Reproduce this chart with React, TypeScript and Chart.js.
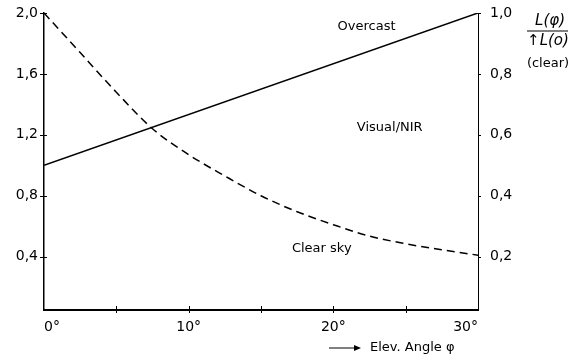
import React, { useEffect, useRef } from "react";
import { Chart, registerables } from "chart.js";

Chart.register(...registerables);

const angles = [0, 2.5, 5, 7.5, 10, 12.5, 15, 17.5, 20, 22.5, 25, 27.5, 30];
const clearSky = [2.0, 1.74, 1.48, 1.24, 1.07, 0.93, 0.8, 0.695, 0.61, 0.535, 0.485, 0.445, 0.41];
const overcastAngles = [0, 30];
const overcast = [1.0, 2.0];
const leftTicks = [0.4, 0.8, 1.2, 1.6, 2.0];
const rightTicks = [0.2, 0.4, 0.6, 0.8, 1.0];
const xTicks = [0, 5, 10, 15, 20, 25, 30];
const xLabelled = [0, 10, 20, 30];
const annotations = [
  { text: "Overcast", x: 22.3, y: 1.91 },
  { text: "Visual/NIR", x: 23.9, y: 1.25 },
  { text: "Clear sky", x: 19.2, y: 0.45 },
];

const FONT = "'DejaVu Sans', sans-serif";

const fmt = (v: number) => v.toFixed(1).replace(".", ",");

const decorPlugin = {
  id: "decor",
  afterDraw(chart: any) {
    const ctx = chart.ctx;
    const xs = chart.scales.x;
    const ys = chart.scales.y;
    const ys2 = chart.scales.y2;
    const ca = chart.chartArea;
    ctx.save();
    ctx.strokeStyle = "#000";
    ctx.lineWidth = 1;
    // crossing ticks on left axis
    leftTicks.forEach((v) => {
      const y = Math.round(ys.getPixelForValue(v)) + 0.5;
      ctx.beginPath();
      ctx.moveTo(ca.left - 4, y);
      ctx.lineTo(ca.left + 3, y);
      ctx.stroke();
    });
    // small ticks on right axis
    rightTicks.forEach((v) => {
      const y = Math.round(ys2.getPixelForValue(v)) + 0.5;
      ctx.beginPath();
      ctx.moveTo(ca.right, y);
      ctx.lineTo(ca.right + 3, y);
      ctx.stroke();
    });
    // crossing ticks on bottom axis
    xTicks.forEach((v) => {
      if (v === 0 || v === 30) return;
      const x = Math.round(xs.getPixelForValue(v)) + 0.5;
      ctx.beginPath();
      ctx.moveTo(x, ca.bottom - 4);
      ctx.lineTo(x, ca.bottom + 3);
      ctx.stroke();
    });
    // annotations
    ctx.fillStyle = "#000";
    ctx.font = `13px ${FONT}`;
    ctx.textAlign = "center";
    ctx.textBaseline = "middle";
    annotations.forEach((a) => {
      ctx.fillText(a.text, xs.getPixelForValue(a.x), ys.getPixelForValue(a.y));
    });
    // x-axis title with arrow
    const ty = ca.bottom + 38;
    ctx.beginPath();
    ctx.moveTo(329, ty);
    ctx.lineTo(356, ty);
    ctx.stroke();
    ctx.beginPath();
    ctx.moveTo(361, ty);
    ctx.lineTo(354, ty - 3);
    ctx.lineTo(354, ty + 3);
    ctx.closePath();
    ctx.fill();
    ctx.textAlign = "left";
    ctx.fillText("Elev. Angle φ", 370, ty);
    // right-axis title
    const cx = 548;
    ctx.textAlign = "center";
    ctx.font = `italic 15px ${FONT}`;
    ctx.fillText("L(φ)", cx + 2, 21);
    ctx.beginPath();
    ctx.lineWidth = 1.2;
    ctx.moveTo(527, 31);
    ctx.lineTo(568, 31);
    ctx.stroke();
    ctx.fillText("↑L(o)", cx, 41);
    ctx.font = `13px ${FONT}`;
    ctx.fillText("(clear)", cx, 64);
    ctx.restore();
  },
};

export default function App() {
  const ref = useRef<HTMLCanvasElement>(null);
  useEffect(() => {
    if (!ref.current) return;
    const chart = new Chart(ref.current, {
      type: "line",
      data: {
        datasets: [
          {
            label: "Overcast",
            data: overcastAngles.map((a, i) => ({ x: a, y: overcast[i] })),
            borderColor: "#000",
            borderWidth: 1.6,
            pointRadius: 0,
            yAxisID: "y",
          },
          {
            label: "Clear sky",
            data: angles.map((a, i) => ({ x: a, y: clearSky[i] })),
            borderColor: "#000",
            borderWidth: 1.5,
            borderDash: [8, 5],
            pointRadius: 0,
            cubicInterpolationMode: "monotone",
            yAxisID: "y",
          },
        ],
      },
      options: {
        animation: false,
        responsive: false,
        layout: { padding: { top: 13, left: 0, right: 0, bottom: 0 } },
        plugins: { legend: { display: false }, tooltip: { enabled: false } },
        scales: {
          x: {
            type: "linear",
            min: 0,
            max: 30,
            afterBuildTicks: (s: any) => {
              s.ticks = xTicks.map((v) => ({ value: v }));
            },
            afterFit: (s: any) => {
              s.height = 52;
            },
            grid: { display: true, drawOnChartArea: false, drawTicks: false },
            border: { display: true, color: "#000", width: 2 },
            ticks: {
              autoSkip: false,
              maxRotation: 0,
              align: "inner",
              padding: 9,
              color: "#000",
              font: { family: FONT, size: 14 },
              callback: (v: any) => (xLabelled.includes(Number(v)) ? `${v}°` : ""),
            },
          },
          y: {
            position: "left",
            min: 0.05,
            max: 2.0,
            afterBuildTicks: (s: any) => {
              s.ticks = leftTicks.map((v) => ({ value: v }));
            },
            afterFit: (s: any) => {
              s.width = 44;
            },
            grid: {
              display: true,
              drawOnChartArea: false,
              drawTicks: true,
              tickLength: 5,
              tickColor: "rgba(0,0,0,0)",
            },
            border: { display: true, color: "#000", width: 1.5 },
            ticks: {
              padding: 1,
              color: "#000",
              font: { family: FONT, size: 14 },
              callback: (v: any) => fmt(Number(v)),
            },
          },
          y2: {
            position: "right",
            min: 0.025,
            max: 1.0,
            afterBuildTicks: (s: any) => {
              s.ticks = rightTicks.map((v) => ({ value: v }));
            },
            afterFit: (s: any) => {
              s.width = 103;
            },
            grid: {
              display: true,
              drawOnChartArea: false,
              drawTicks: true,
              tickLength: 10,
              tickColor: "rgba(0,0,0,0)",
            },
            border: { display: true, color: "#000", width: 1, dash: [1, 2] },
            ticks: {
              padding: 2,
              color: "#000",
              font: { family: FONT, size: 14 },
              callback: (v: any) => fmt(Number(v)),
            },
          },
        },
      },
      plugins: [decorPlugin],
    });
    return () => chart.destroy();
  }, []);
  return (
    <div style={{ position: "fixed", left: 0, top: 0, width: 581, height: 362, background: "#fff" }}>
      <canvas ref={ref} width={581} height={362} style={{ width: 581, height: 362 }} />
    </div>
  );
}
